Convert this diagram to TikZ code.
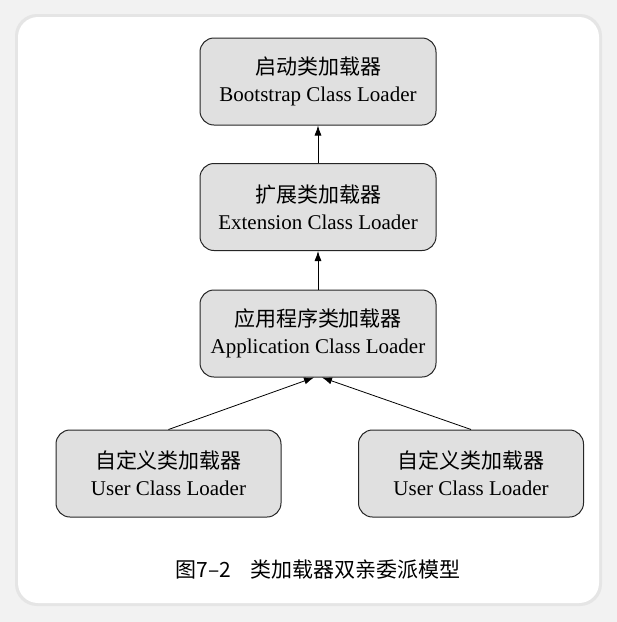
\documentclass[tikz,border=0pt]{standalone}
\usepackage{fontspec}
\setmainfont{Liberation Serif}
\newfontfamily\cjk{Noto Sans CJK SC}
\usetikzlibrary{calc,
arrows.meta,
positioning}

\begin{document}
\begin{tikzpicture} [x=1pt,
    y=-1pt,
    -{Latex[length=10pt,width=7pt]},
    thick,
    every node/.style={font={\fontsize{21}{27}\selectfont}},
    main node/.style={rectangle, rounded corners=14pt, fill = black!12,
        draw = black!85, line width = 1pt, minimum height = 87pt,
        align=center}
  ]

  % card
  \fill [black!5] (0,0) rectangle (617,622);
  \fill [black!10, rounded corners=22pt] (15,14) rectangle (602,606);
  \fill [white, rounded corners=20pt] (18,17) rectangle (599,603);

  \node [main node,
    minimum width = 236pt
  ] (boot) at (318, 81.5) {{\cjk 启动类加载器}\\Bootstrap Class Loader};
  \node [main node,
    minimum width = 236pt
  ] (ext) at (318, 207) {{\cjk 扩展类加载器}\\Extension Class Loader};
  \node [main node,
    minimum width = 236pt
  ] (app) at (318, 333.5) {{\cjk 应用程序类加载器}\\Application Class Loader};

  \node [main node,
    minimum width = 225pt
  ] (user1) at (168.5, 473.5) {{\cjk 自定义类加载器}\\User Class Loader};
  \node [main node,
    minimum width = 225pt
  ] (user2) at (471, 473.5) {{\cjk 自定义类加载器}\\User Class Loader};

  \draw (ext.north) -- (boot.south);
  \draw (app.north) -- (ext.south);
  \draw (user1.north) -- ($(app.south) + (-4, 0)$);
  \draw (user2.north) -- ($(app.south) + (4, 0)$);

  \node [font = {\cjk\fontsize{21}{24}\selectfont}] (caption) at (318, 570)
    {图7–2\hspace{0.9em}类加载器双亲委派模型};

\end{tikzpicture}
\end{document}
